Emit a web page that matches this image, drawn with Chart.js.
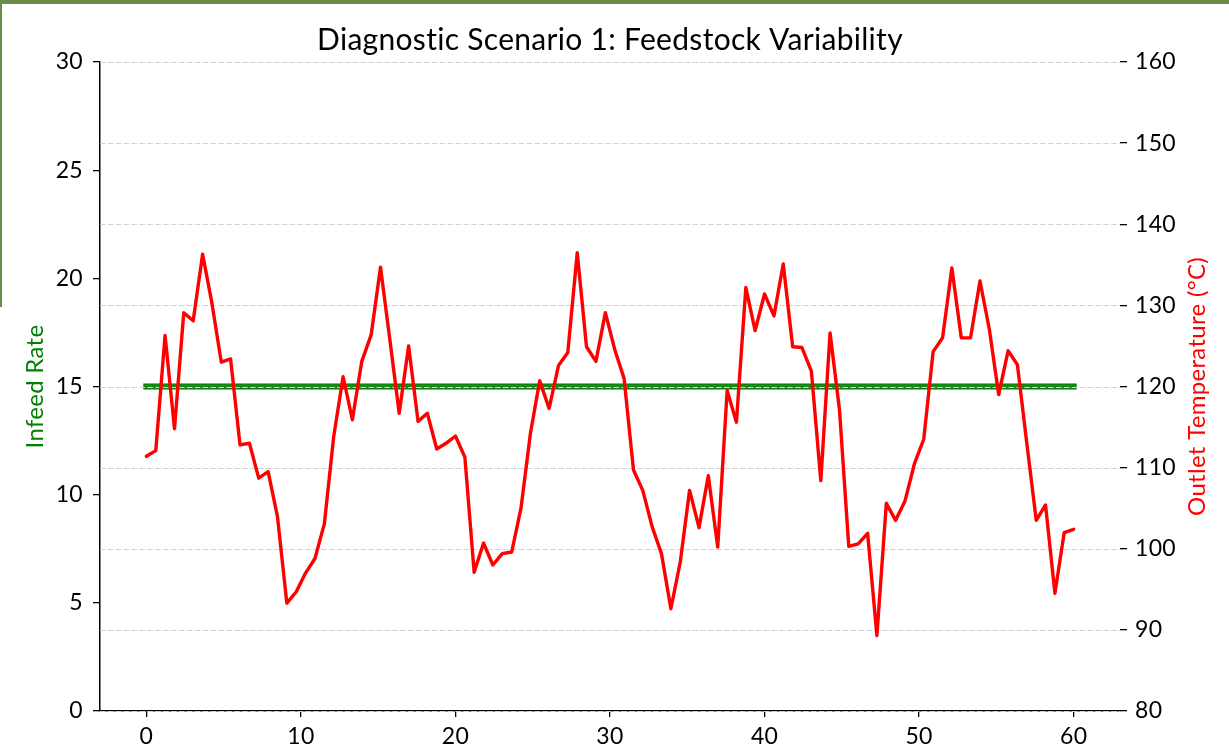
<!DOCTYPE html>
<html>
<head>
<meta charset="utf-8">
<script src="https://cdn.jsdelivr.net/npm/chart.js@4/dist/chart.umd.min.js"></script>
<style>
  html, body { margin: 0; padding: 0; background: #ffffff; }
  #wrap { position: relative; width: 1229px; height: 749px; }
  #c { position: absolute; left: 0; top: 0; }
  .frameTop { position: absolute; left: 0; top: 0; width: 1229px; height: 4px; background: #6a8c46; }
  .frameLeft { position: absolute; left: 0; top: 0; width: 2px; height: 307px; background: #6a8c46; }
</style>
</head>
<body>
<div id="wrap">
  <canvas id="c" width="1229" height="749"></canvas>
  <div class="frameTop"></div>
  <div class="frameLeft"></div>
</div>
<script>
const TITLE = "Diagnostic Scenario 1: Feedstock Variability";
const LEFT_LABEL = "Infeed Rate";
const RIGHT_LABEL = "Outlet Temperature (°C)";

const timeValues = [
  0.00, 0.61, 1.21, 1.82, 2.42, 3.03, 3.64, 4.24, 4.85, 5.45,
  6.06, 6.67, 7.27, 7.88, 8.48, 9.09, 9.70, 10.30, 10.91, 11.52,
  12.12, 12.73, 13.33, 13.94, 14.55, 15.15, 15.76, 16.36, 16.97, 17.58,
  18.18, 18.79, 19.39, 20.00, 20.61, 21.21, 21.82, 22.42, 23.03, 23.64,
  24.24, 24.85, 25.45, 26.06, 26.67, 27.27, 27.88, 28.48, 29.09, 29.70,
  30.30, 30.91, 31.52, 32.12, 32.73, 33.33, 33.94, 34.55, 35.15, 35.76,
  36.36, 36.97, 37.58, 38.18, 38.79, 39.39, 40.00, 40.61, 41.21, 41.82,
  42.42, 43.03, 43.64, 44.24, 44.85, 45.45, 46.06, 46.67, 47.27, 47.88,
  48.48, 49.09, 49.70, 50.30, 50.91, 51.52, 52.12, 52.73, 53.33, 53.94,
  54.55, 55.15, 55.76, 56.36, 56.97, 57.58, 58.18, 58.79, 59.39, 60.00
];

const infeedRate = [
  15, 15, 15, 15, 15, 15, 15, 15, 15, 15,
  15, 15, 15, 15, 15, 15, 15, 15, 15, 15,
  15, 15, 15, 15, 15, 15, 15, 15, 15, 15,
  15, 15, 15, 15, 15, 15, 15, 15, 15, 15,
  15, 15, 15, 15, 15, 15, 15, 15, 15, 15,
  15, 15, 15, 15, 15, 15, 15, 15, 15, 15,
  15, 15, 15, 15, 15, 15, 15, 15, 15, 15,
  15, 15, 15, 15, 15, 15, 15, 15, 15, 15,
  15, 15, 15, 15, 15, 15, 15, 15, 15, 15,
  15, 15, 15, 15, 15, 15, 15, 15, 15, 15
];

const outletTemp = [
  111.4, 112.1, 126.3, 114.8, 129.1, 128.1, 136.3, 130.3, 123.0, 123.4,
  112.8, 113.0, 108.7, 109.5, 104.0, 93.3, 94.7, 97.0, 98.8, 103.1,
  113.8, 121.2, 115.9, 123.1, 126.4, 134.7, 125.7, 116.7, 125.0, 115.7,
  116.7, 112.3, 113.0, 113.9, 111.3, 97.1, 100.7, 98.0, 99.4, 99.6,
  105.0, 114.2, 120.7, 117.3, 122.6, 124.2, 136.5, 124.9, 123.1, 129.1,
  124.6, 121.0, 109.7, 107.2, 102.7, 99.4, 92.6, 98.4, 107.2, 102.6,
  109.0, 100.2, 119.5, 115.6, 132.2, 126.9, 131.4, 128.7, 135.1, 124.9,
  124.8, 121.9, 108.4, 126.6, 117.1, 100.3, 100.6, 101.9, 89.3, 105.6,
  103.5, 105.9, 110.5, 113.5, 124.3, 126.0, 134.6, 126.0, 126.0, 133.0,
  127.0, 119.0, 124.4, 122.7, 113.0, 103.5, 105.4, 94.5, 102.0, 102.4
];

const xTicks = [0, 10, 20, 30, 40, 50, 60];
const leftTicks = [0, 5, 10, 15, 20, 25, 30];
const rightTicks = [80, 90, 100, 110, 120, 130, 140, 150, 160];

const FONT = "Lato, 'Open Sans', sans-serif";

function pts(ys) { return timeValues.map((t, i) => ({ x: t, y: ys[i] })); }

// small letter spacing so the title is not drawn with ligatures
const noLigatures = {
  id: 'noLigatures',
  beforeDraw(chart) {
    if ('letterSpacing' in chart.ctx) chart.ctx.letterSpacing = '0.3px';
  }
};

// dashed grid drawn between the green (left axis) series and the red (right axis) series
const midGrid = {
  id: 'midGrid',
  afterDatasetDraw(chart, args) {
    if (args.index !== 1) return;
    const ctx = chart.ctx;
    const s = chart.scales.y2;
    const a = chart.chartArea;
    ctx.save();
    ctx.strokeStyle = '#d2d2d2';
    ctx.lineWidth = 1.2;
    ctx.setLineDash([5.5, 2.4]);
    rightTicks.forEach(v => {
      const y = Math.round(s.getPixelForValue(v)) + 0.5;
      ctx.beginPath();
      ctx.moveTo(a.left, y);
      ctx.lineTo(a.right, y);
      ctx.stroke();
    });
    ctx.restore();
  }
};

const rightTitle = {
  id: 'rightTitle',
  afterDraw(chart) {
    const ctx = chart.ctx;
    const s = chart.scales.y2;
    const a = chart.chartArea;
    ctx.save();
    ctx.translate(s.right - 32, (a.top + a.bottom) / 2);
    ctx.rotate(-Math.PI / 2);
    ctx.textAlign = 'center';
    ctx.textBaseline = 'middle';
    ctx.fillStyle = '#ff0000';
    ctx.font = '24px ' + FONT;
    ctx.fillText(RIGHT_LABEL, 0, 0);
    ctx.restore();
  }
};

new Chart(document.getElementById('c'), {
  type: 'line',
  data: {
    datasets: [
      {
        label: 'Infeed Rate (edge)',
        data: pts(infeedRate),
        yAxisID: 'y',
        borderColor: '#0b6a0b',
        borderWidth: 6,
        borderCapStyle: 'square',
        pointRadius: 0,
        order: 3
      },
      {
        label: 'Infeed Rate',
        data: pts(infeedRate),
        yAxisID: 'y',
        borderColor: '#178a17',
        borderWidth: 4.4,
        borderCapStyle: 'square',
        pointRadius: 0,
        order: 2
      },
      {
        label: 'Outlet Temperature',
        data: pts(outletTemp),
        yAxisID: 'y2',
        borderColor: '#ff0000',
        borderWidth: 3.4,
        borderJoinStyle: 'round',
        borderCapStyle: 'round',
        pointRadius: 0,
        tension: 0,
        order: 1
      }
    ]
  },
  options: {
    responsive: false,
    animation: false,
    layout: { padding: 0 },
    plugins: {
      legend: { display: false },
      tooltip: { enabled: false },
      title: {
        display: true,
        text: TITLE,
        fullSize: false,
        color: '#000000',
        font: { family: FONT, size: 30, weight: 'normal', lineHeight: 1.2 },
        padding: { top: 22, bottom: 4 }
      }
    },
    scales: {
      x: {
        type: 'linear',
        min: -3,
        max: 63,
        afterBuildTicks: s => { s.ticks = xTicks.map(v => ({ value: v })); },
        afterFit: s => { s.height = 38; },
        grid: { display: true, drawOnChartArea: false, drawTicks: true, tickLength: 6, tickColor: '#000000', lineWidth: 1.3 },
        border: { display: true, color: '#000000', width: 1.5 },
        ticks: { color: '#000000', font: { family: FONT, size: 23 }, padding: 6, maxRotation: 0 }
      },
      y: {
        type: 'linear',
        position: 'left',
        min: 0,
        max: 30,
        afterBuildTicks: s => { s.ticks = leftTicks.map(v => ({ value: v })); },
        afterFit: s => { s.width = 100; },
        grid: { display: true, drawOnChartArea: false, drawTicks: true, tickLength: 7, tickColor: '#000000', lineWidth: 1.3 },
        border: { display: true, color: '#000000', width: 1.5 },
        ticks: { color: '#000000', font: { family: FONT, size: 23 }, padding: 10 },
        title: {
          display: true,
          text: LEFT_LABEL,
          color: '#008000',
          font: { family: FONT, size: 24, lineHeight: 1.2 },
          padding: { top: 21, bottom: 0 }
        }
      },
      y2: {
        type: 'linear',
        position: 'right',
        min: 80,
        max: 160,
        afterBuildTicks: s => { s.ticks = rightTicks.map(v => ({ value: v })); },
        afterFit: s => { s.width = 109; },
        grid: { display: true, drawOnChartArea: false, drawTicks: true, tickLength: 7, tickColor: '#000000', lineWidth: 1.3 },
        border: { display: false },
        ticks: { color: '#000000', font: { family: FONT, size: 23 }, padding: 8 }
      }
    }
  },
  plugins: [noLigatures, midGrid, rightTitle]
});
</script>
</body>
</html>
